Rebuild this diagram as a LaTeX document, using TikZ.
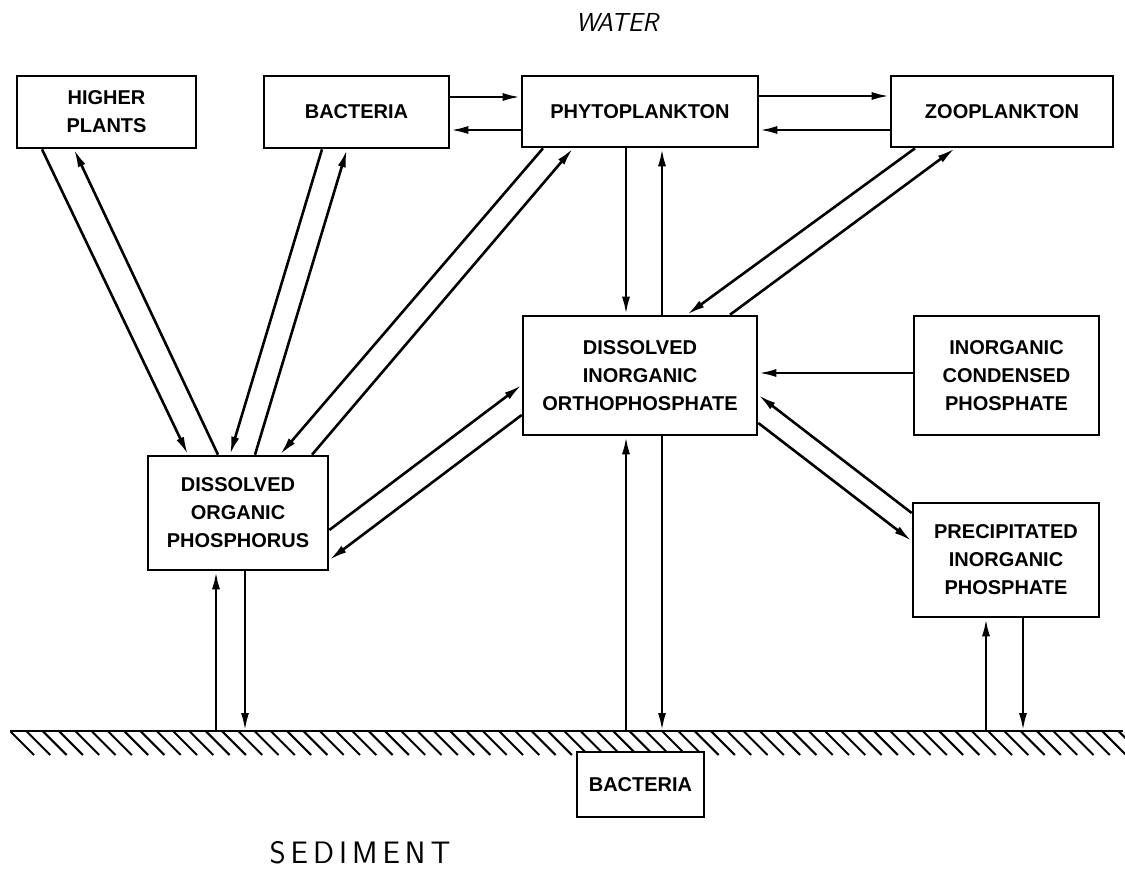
\documentclass[tikz,border=0pt]{standalone}
\usepackage{fontspec}
\setmainfont{Liberation Sans}
\usetikzlibrary{arrows.meta}

\begin{document}
\begin{tikzpicture}[x=1pt, y=-1pt, line width=2.6pt,
    pbox/.style={draw, fill=white, align=center, inner sep=0pt, font=\bfseries\fontsize{20}{28}\selectfont},
    flow/.style={-{Latex[length=18pt,width=8pt]}}]
    \useasboundingbox (0,0) rectangle (1125,871);

    % water compartments
    \node[pbox, minimum width=179pt, minimum height=72pt] (hp) at (106.5,112) {HIGHER\\PLANTS};
    \node[pbox, minimum width=185pt, minimum height=72pt] (bac) at (356.5,112) {BACTERIA};
    \node[pbox, minimum width=236pt, minimum height=71pt] (phy) at (640,111.5) {PHYTOPLANKTON};
    \node[pbox, minimum width=222pt, minimum height=71pt] (zoo) at (1002,111.5) {ZOOPLANKTON};
    \node[pbox, minimum width=234pt, minimum height=119pt] (dio) at (640,375.5) {DISSOLVED\\INORGANIC\\ORTHOPHOSPHATE};
    \node[pbox, minimum width=185pt, minimum height=119pt] (icp) at (1006.5,375.5) {INORGANIC\\CONDENSED\\PHOSPHATE};
    \node[pbox, minimum width=180pt, minimum height=114pt] (dop) at (238,513) {DISSOLVED\\ORGANIC\\PHOSPHORUS};
    \node[pbox, minimum width=186pt, minimum height=114pt] (pip) at (1006,560) {PRECIPITATED\\INORGANIC\\PHOSPHATE};

    % sediment surface
    \coordinate (gnd) at (0,731);
    \begin{scope}
        \clip (10,728) rectangle (1125,757);
        \foreach \x in {10,26.3,...,1125}
            \draw[line width=2pt] (\x,731) -- (\x+24,755);
    \end{scope}
    \draw (10,0 |- gnd) -- (1123,0 |- gnd);
    \node[pbox, minimum width=127pt, minimum height=65pt] (bbac) at (640.5,784.5) {BACTERIA};

    \node[font=\sffamily\itshape\fontsize{26}{26}\selectfont] (water) at (617,22) {WATER};
    \node[font=\sffamily\fontsize{31}{31}\selectfont] (sed) at (360,853)
        {S\kern5pt E\kern5pt D\kern5pt I\kern5pt M\kern5pt E\kern5pt N\kern5pt T};

    % top row exchanges
    \draw[flow] (bac.east |- 0,97) -- (phy.west |- 0,97);
    \draw[flow] (phy.west |- 0,130) -- (bac.east |- 0,130);
    \draw[flow] (phy.east |- 0,96) -- (zoo.west |- 0,96);
    \draw[flow] (zoo.west |- 0,130) -- (phy.east |- 0,130);

    % to and from dissolved organic phosphorus
    \draw[flow] (42,0 |- hp.south) -- (188,0 |- dop.north);
    \draw[flow] (218,0 |- dop.north) -- (74,0 |- hp.south);
    \draw[flow] (322,0 |- bac.south) -- (230,0 |- dop.north);
    \draw[flow] (255,0 |- dop.north) -- (347,0 |- bac.south);
    \draw[flow] (543,0 |- phy.south) -- (280,0 |- dop.north);
    \draw[flow] (312,0 |- dop.north) -- (573,0 |- phy.south);

    % to and from orthophosphate
    \draw[flow] (626,0 |- phy.south) -- (626,0 |- dio.north);
    \draw[flow] (662,0 |- dio.north) -- (662,0 |- phy.south);
    \draw[flow] (915,0 |- zoo.south) -- (687,0 |- dio.north);
    \draw[flow] (730,0 |- dio.north) -- (955,0 |- zoo.south);
    \draw[flow] (icp.west |- 0,373) -- (dio.east |- 0,373);
    \draw[flow] (dop.east |- 0,530) -- (dio.west |- 0,385);
    \draw[flow] (dio.west |- 0,415) -- (dop.east |- 0,560);
    \draw[flow] (pip.west |- 0,513) -- (dio.east |- 0,395);
    \draw[flow] (dio.east |- 0,423) -- (pip.west |- 0,541);

    % exchange with sediment
    \draw[flow] (216,0 |- gnd) -- (216,0 |- dop.south);
    \draw[flow] (245,0 |- dop.south) -- (245,0 |- gnd);
    \draw[flow] (626,0 |- gnd) -- (626,0 |- dio.south);
    \draw[flow] (662,0 |- dio.south) -- (662,0 |- gnd);
    \draw[flow] (986,0 |- gnd) -- (986,0 |- pip.south);
    \draw[flow] (1023,0 |- pip.south) -- (1023,0 |- gnd);
\end{tikzpicture}
\end{document}
